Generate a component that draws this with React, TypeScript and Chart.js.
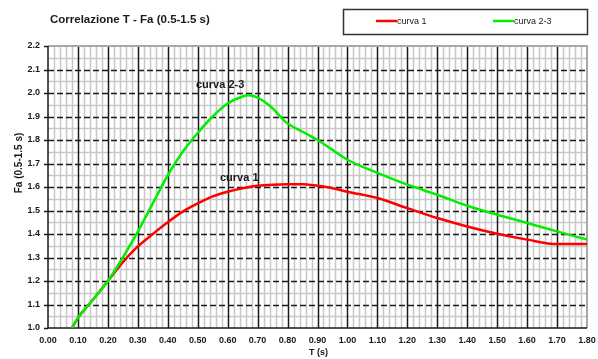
import React, { useEffect, useRef } from "react";
import { Chart, registerables } from "chart.js";

Chart.register(...registerables);

const T1 = [0.08, 0.1, 0.15, 0.2, 0.25, 0.3, 0.35, 0.4, 0.45, 0.5, 0.55, 0.6, 0.65, 0.7, 0.75, 0.8, 0.85, 0.9, 0.95, 1.0, 1.1, 1.2, 1.3, 1.4, 1.5, 1.6, 1.7, 1.8];
const curva1 = [1.0, 1.043, 1.12, 1.2, 1.28, 1.347, 1.4, 1.45, 1.495, 1.53, 1.56, 1.58, 1.595, 1.605, 1.61, 1.612, 1.612, 1.605, 1.595, 1.58, 1.553, 1.51, 1.468, 1.432, 1.401, 1.376, 1.357, 1.357];

const T23 = [0.08, 0.1, 0.15, 0.2, 0.25, 0.3, 0.35, 0.4, 0.45, 0.5, 0.55, 0.6, 0.65, 0.67, 0.7, 0.75, 0.795, 0.85, 0.9, 0.95, 1.0, 1.1, 1.2, 1.3, 1.4, 1.5, 1.6, 1.7, 1.8];
const curva23 = [1.0, 1.043, 1.12, 1.2, 1.3, 1.41, 1.53, 1.65, 1.75, 1.83, 1.9, 1.955, 1.985, 1.99, 1.98, 1.935, 1.875, 1.835, 1.8, 1.758, 1.716, 1.66, 1.61, 1.567, 1.52, 1.482, 1.447, 1.411, 1.376];

const title = "Correlazione T - Fa (0.5-1.5 s)";
const seriesNames = ["curva 1", "curva 2-3"];
const seriesColors = ["#ff0000", "#00ee00"];
const xTitle = "T (s)";
const yTitle = "Fa (0.5-1.5 s)";

const FONT = "'Liberation Sans', Arial, sans-serif";

const decorPlugin = {
  id: "decor",
  beforeDatasetsDraw(chart: any) {
    const { ctx, chartArea: a, scales } = chart;
    const xs = scales.x, ys = scales.y;
    ctx.save();
    ctx.lineWidth = 1.5;
    ctx.strokeStyle = "#c8c8c8";
    for (let i = 0; i <= 90; i++) {
      if (i % 5 === 0) continue;
      const px = Math.round(xs.getPixelForValue(i * 0.02)) + 0.5;
      ctx.beginPath(); ctx.moveTo(px, a.top); ctx.lineTo(px, a.bottom); ctx.stroke();
    }
    for (let i = 0; i <= 24; i++) {
      if (i % 2 === 0) continue;
      const py = Math.round(ys.getPixelForValue(1 + i * 0.05)) + 0.5;
      ctx.beginPath(); ctx.moveTo(a.left, py); ctx.lineTo(a.right, py); ctx.stroke();
    }
    ctx.strokeStyle = "#1a1a1a";
    ctx.lineWidth = 1.5;
    ctx.setLineDash([6, 3]);
    for (let i = 1; i < 12; i++) {
      const py = Math.round(ys.getPixelForValue(1 + i * 0.1)) + 0.5;
      ctx.beginPath(); ctx.moveTo(a.left, py); ctx.lineTo(a.right, py); ctx.stroke();
    }
    ctx.setLineDash([]);
    for (let i = 1; i < 18; i++) {
      const px = Math.round(xs.getPixelForValue(i * 0.1)) + 0.5;
      ctx.beginPath(); ctx.moveTo(px, a.top); ctx.lineTo(px, a.bottom); ctx.stroke();
    }
    ctx.strokeStyle = "#a8a8a8";
    ctx.lineWidth = 2;
    ctx.beginPath();
    ctx.moveTo(a.left, a.top); ctx.lineTo(a.right, a.top); ctx.lineTo(a.right, a.bottom);
    ctx.stroke();
    ctx.strokeStyle = "#1a1a1a";
    ctx.lineWidth = 1.5;
    ctx.beginPath();
    ctx.moveTo(a.left, a.top); ctx.lineTo(a.left, a.bottom); ctx.lineTo(a.right, a.bottom);
    ctx.stroke();
    for (let i = 0; i <= 12; i++) {
      const py = Math.round(ys.getPixelForValue(1 + i * 0.1)) + 0.5;
      ctx.beginPath(); ctx.moveTo(a.left - 4, py); ctx.lineTo(a.left, py); ctx.stroke();
    }
    ctx.restore();
  },
  afterDraw(chart: any) {
    const { ctx } = chart;
    ctx.save();
    ctx.fillStyle = "#1a1a1a";
    ctx.font = `bold 11.5px ${FONT}`;
    ctx.textAlign = "left";
    ctx.textBaseline = "middle";
    ctx.fillText(title, 50, 20);
    ctx.strokeStyle = "#333";
    ctx.lineWidth = 1.5;
    ctx.strokeRect(343.5, 9.5, 244, 25);
    ctx.font = `9px ${FONT}`;
    const legendX = [376, 493];
    seriesNames.forEach((n, i) => {
      ctx.strokeStyle = seriesColors[i];
      ctx.lineWidth = 2.5;
      ctx.beginPath(); ctx.moveTo(legendX[i], 21); ctx.lineTo(legendX[i] + 21, 21); ctx.stroke();
      ctx.fillStyle = "#1a1a1a";
      ctx.fillText(n, legendX[i] + 21, 21.5);
    });
    ctx.font = `bold 11px ${FONT}`;
    ctx.fillText(seriesNames[1], 196, 85);
    ctx.fillText(seriesNames[0], 220, 178);
    ctx.font = `bold 9px ${FONT}`;
    ctx.fillText(xTitle, 309, 353);
    ctx.save();
    ctx.translate(19, 163);
    ctx.rotate(-Math.PI / 2);
    ctx.textAlign = "center";
    ctx.font = `bold 10px ${FONT}`;
    ctx.fillText(yTitle, 0, 0);
    ctx.restore();
    ctx.restore();
  },
};

export default function App() {
  const ref = useRef<HTMLCanvasElement>(null);
  useEffect(() => {
    document.body.style.margin = "0";
    const chart = new Chart(ref.current!, {
      type: "line",
      data: {
        datasets: [
          {
            label: seriesNames[1],
            data: T23.map((t, i) => ({ x: t, y: curva23[i] })),
            borderColor: seriesColors[1],
            borderWidth: 2.5,
            pointRadius: 0,
            cubicInterpolationMode: "monotone",
            fill: false,
          },
          {
            label: seriesNames[0],
            data: T1.map((t, i) => ({ x: t, y: curva1[i] })),
            borderColor: seriesColors[0],
            borderWidth: 2.5,
            pointRadius: 0,
            cubicInterpolationMode: "monotone",
            fill: false,
          },
        ],
      },
      options: {
        animation: false,
        responsive: false,
        layout: { padding: { top: 46, right: 11, left: 0, bottom: 0 } },
        plugins: { legend: { display: false }, tooltip: { enabled: false } },
        scales: {
          x: {
            type: "linear",
            min: 0,
            max: 1.8,
            grid: { display: false, drawTicks: false },
            border: { display: false },
            ticks: {
              stepSize: 0.1,
              callback: (v: any) => Number(v).toFixed(2),
              font: { family: FONT, size: 9, weight: "bold" },
              color: "#1a1a1a",
              maxRotation: 0,
              autoSkip: false,
              padding: 7,
            },
            afterFit: (s: any) => { s.height = 31; s.paddingLeft = 0; s.paddingRight = 0; },
          },
          y: {
            type: "linear",
            min: 1.0,
            max: 2.2,
            grid: { display: false, drawTicks: false },
            border: { display: false },
            ticks: {
              stepSize: 0.1,
              callback: (v: any) => Number(v).toFixed(1),
              font: { family: FONT, size: 9, weight: "bold" },
              color: "#1a1a1a",
              padding: 8,
            },
            afterFit: (s: any) => { s.width = 48; s.paddingTop = 0; s.paddingBottom = 0; },
          },
        },
      },
      plugins: [decorPlugin],
    });
    return () => chart.destroy();
  }, []);
  return <canvas ref={ref} width={598} height={359} style={{ display: "block" }} />;
}
